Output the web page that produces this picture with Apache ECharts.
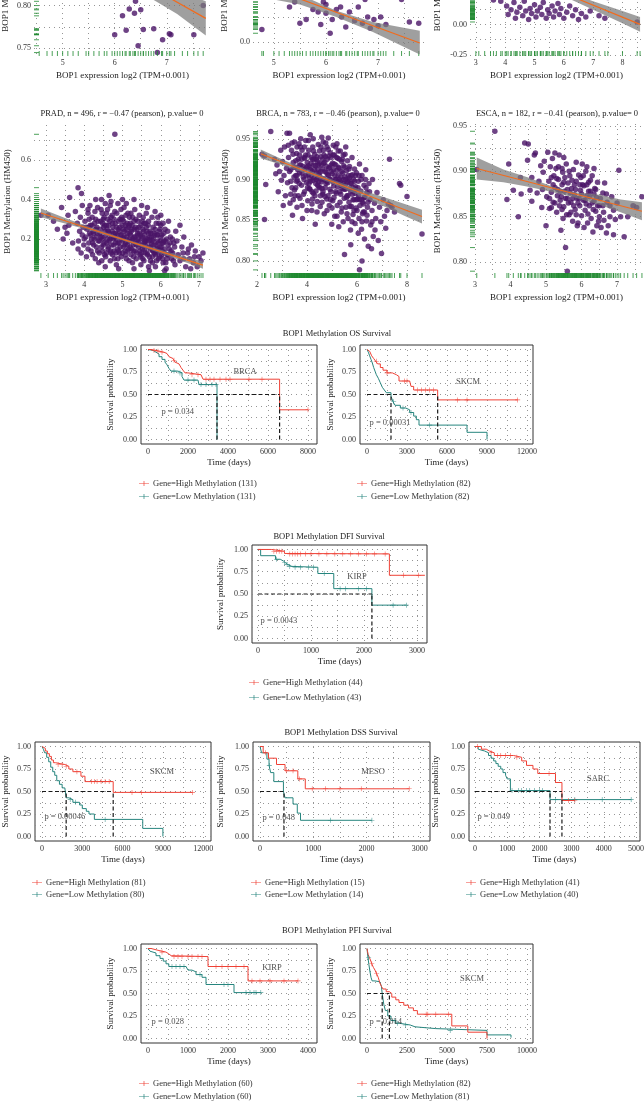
<!DOCTYPE html>
<html><head><meta charset="utf-8">
<script src="https://cdn.jsdelivr.net/npm/echarts@6/dist/echarts.min.js"></script>
<style>html,body{margin:0;padding:0;background:#fff}#c{width:644px;height:1101px}</style>
</head><body><div id="c"></div>
<script>
// ---------------- DATA: scatter panels ----------------
const A1_PTS = [[6.0,0.766],[6.15,0.788],[6.22,0.771],[6.38,0.791],[6.45,0.753],[6.55,0.772],[6.75,0.773],[6.82,0.745],[6.92,0.76],[7.05,0.767],[7.08,0.766],[7.52,0.766],[6.5,0.795],[6.28,0.796],
[4.55,0.88],[4.7,0.85],[4.9,0.89],[5.0,0.865],[5.1,0.84],[5.3,0.87],[5.45,0.9],[5.6,0.845],[5.7,0.86],[5.8,0.82],[5.85,0.88],[5.95,0.835],[6.05,0.85],[6.1,0.815],[6.2,0.86],[6.3,0.825],[6.35,0.84],[6.4,0.805],[6.6,0.83],[6.65,0.81],[6.7,0.85],[6.9,0.82],[7.0,0.835],[7.15,0.81],[7.3,0.84],[7.4,0.82],[7.6,0.815],[7.7,0.8],[5.5,0.81],[6.55,0.87],[5.2,0.905],[4.8,0.83]];
const A1_FIT = [[4.55,0.895],[7.75,0.785]];
const A1_BAND = [[4.55,0.875,0.915],[5.2,0.862,0.884],[5.9,0.84,0.856],[6.6,0.812,0.834],[7.2,0.79,0.818],[7.75,0.765,0.805]];

const A2_PTS = [[4.77,0.05],[5.3,0.14],[5.5,0.075],[5.62,0.09],[5.75,0.13],[5.85,0.12],[5.9,0.07],[6.0,0.115],[6.08,0.035],[6.12,0.09],[6.2,0.13],[6.3,0.1],[6.38,0.06],[6.45,0.12],[6.55,0.085],[6.62,0.14],[6.7,0.075],[6.8,0.1],[6.85,0.055],[6.92,0.09],[7.0,0.065],[7.05,0.1],[7.15,0.07],[7.6,0.08],[7.78,0.075],[6.0,0.15],[5.95,0.16],[5.4,0.16],[6.28,0.14],
[4.8,0.3],[5.0,0.25],[5.1,0.35],[5.2,0.22],[5.35,0.28],[5.45,0.2],[5.55,0.32],[5.7,0.24],[5.8,0.19],[6.05,0.27],[6.15,0.21],[6.25,0.18],[6.4,0.24],[6.5,0.19],[6.6,0.2],[6.75,0.17],[6.9,0.22],[7.1,0.18],[7.3,0.2],[7.45,0.17]];
const A2_FIT = [[4.75,0.23],[7.8,-0.004]];
const A2_BAND = [[4.75,0.18,0.28],[5.5,0.15,0.19],[6.2,0.1,0.125],[6.9,0.04,0.08],[7.8,-0.05,0.045]];

const A3_PTS = [[4.05,0.15],[4.1,0.08],[4.2,0.12],[4.3,0.18],[4.35,0.05],[4.4,0.1],[4.5,0.14],[4.6,0.07],[4.65,0.19],[4.7,0.11],[4.8,0.04],[4.85,0.13],[4.9,0.09],[5.0,0.16],[5.05,0.06],[5.1,0.11],[5.2,0.14],[5.25,0.08],[5.3,0.18],[5.4,0.05],[5.45,0.12],[5.5,0.09],[5.6,0.15],[5.65,0.06],[5.7,0.11],[5.8,0.17],[5.85,0.08],[5.9,0.13],[6.0,0.05],[6.1,0.1],[6.2,0.15],[6.3,0.07],[6.4,0.12],[6.5,0.04],[6.6,0.09],[6.75,0.06],[6.9,0.11],[7.2,0.07],[7.4,0.05],[8.5,0.02],[3.6,0.2],[3.85,0.19],
[3.0,0.6],[3.1,0.5],[3.3,0.45],[3.5,0.55],[3.7,0.4],[3.9,0.35],[4.0,0.5],[4.2,0.3],[4.4,0.42],[4.6,0.28],[4.8,0.38],[5.0,0.25],[5.2,0.33],[5.4,0.27],[5.6,0.3],[5.8,0.24],[6.0,0.32],[6.3,0.26],[6.6,0.23],[7.0,0.25],[7.5,0.22],[8.0,0.24],[8.6,0.3]];
const A3_FIT = [[3.0,0.55],[8.6,0.0]];
const A3_BAND = [[3.0,0.49,0.61],[4.0,0.42,0.48],[5.0,0.33,0.37],[6.0,0.23,0.27],[7.0,0.12,0.19],[8.0,0.01,0.11],[8.6,-0.06,0.06]];

const PRAD_PTS = [[2.87,0.32],[3.06,0.32],[3.41,0.36],[3.58,0.32],[3.77,0.34],[3.55,0.23],[3.45,0.20],[3.84,0.15],[3.2,0.29],[3.5,0.26],
[4.8,0.73],[3.84,0.46],[3.62,0.41],[3.93,0.43],[4.1,0.35],[4.3,0.40],[5.0,0.40],[4.65,0.42],[5.5,0.37],[5.85,0.34],[6.2,0.29],
[3.82,0.28],[3.85,0.19],[3.88,0.24],[3.9,0.31],[3.92,0.13],[3.95,0.22],[3.97,0.26],[3.99,0.17],
[4.02,0.29],[4.04,0.21],[4.06,0.11],[4.08,0.25],[4.1,0.33],[4.12,0.18],[4.14,0.23],[4.16,0.27],[4.18,0.14],[4.19,0.20],
[4.21,0.31],[4.23,0.24],[4.25,0.17],[4.27,0.28],[4.29,0.10],[4.31,0.21],[4.33,0.26],[4.35,0.36],[4.37,0.19],[4.39,0.13],[4.3,0.30],
[4.41,0.23],[4.43,0.29],[4.45,0.16],[4.47,0.33],[4.49,0.20],[4.51,0.26],[4.53,0.12],[4.55,0.38],[4.57,0.22],[4.59,0.18],[4.46,0.09],[4.52,0.31],[4.58,0.27],
[4.61,0.35],[4.63,0.24],[4.65,0.19],[4.67,0.29],[4.69,0.14],[4.71,0.21],[4.73,0.32],[4.75,0.26],[4.77,0.17],[4.79,0.10],[4.62,0.30],[4.68,0.37],[4.74,0.12],[4.78,0.23],
[4.81,0.28],[4.83,0.20],[4.85,0.33],[4.87,0.15],[4.89,0.25],[4.91,0.18],[4.93,0.30],[4.95,0.22],[4.97,0.11],[4.99,0.27],[4.84,0.07],[4.88,0.38],[4.92,0.13],[4.96,0.35],[4.82,0.23],
[5.01,0.19],[5.03,0.29],[5.05,0.24],[5.07,0.14],[5.09,0.32],[5.11,0.21],[5.13,0.17],[5.15,0.26],[5.17,0.09],[5.19,0.23],[5.04,0.36],[5.08,0.12],[5.12,0.28],[5.16,0.19],[5.18,0.31],[5.02,0.16],
[5.21,0.22],[5.23,0.15],[5.25,0.27],[5.27,0.20],[5.29,0.11],[5.31,0.25],[5.33,0.18],[5.35,0.30],[5.37,0.13],[5.39,0.23],[5.22,0.33],[5.26,0.08],[5.32,0.35],[5.36,0.17],[5.24,0.19],
[5.41,0.20],[5.43,0.26],[5.45,0.14],[5.47,0.22],[5.49,0.17],[5.51,0.29],[5.53,0.10],[5.55,0.24],[5.57,0.18],[5.59,0.13],[5.44,0.32],[5.48,0.07],[5.52,0.21],[5.56,0.28],[5.58,0.15],
[5.61,0.19],[5.63,0.24],[5.65,0.12],[5.67,0.27],[5.69,0.16],[5.71,0.21],[5.73,0.09],[5.75,0.18],[5.77,0.31],[5.79,0.14],[5.62,0.33],[5.68,0.06],[5.74,0.23],[5.78,0.11],
[5.81,0.20],[5.83,0.13],[5.85,0.25],[5.87,0.17],[5.89,0.09],[5.91,0.22],[5.93,0.15],[5.95,0.28],[5.97,0.11],[5.99,0.19],[5.86,0.06],[5.92,0.31],[5.96,0.14],
[6.01,0.16],[6.03,0.22],[6.05,0.10],[6.07,0.18],[6.09,0.13],[6.11,0.25],[6.13,0.08],[6.15,0.20],[6.17,0.12],[6.19,0.17],[6.06,0.28],[6.14,0.05],
[6.22,0.15],[6.25,0.21],[6.28,0.10],[6.31,0.13],[6.34,0.18],[6.37,0.07],[6.39,0.24],
[6.45,0.12],[6.5,0.09],[6.55,0.16],[6.6,0.21],[6.65,0.06],[6.7,0.13],[6.75,0.10],[6.8,0.17],[6.85,0.08],[6.9,0.14],[6.95,0.06],[7.05,0.09],[7.1,0.13],[6.78,0.05],[6.5,0.27],
[4.0,0.2],[4.05,0.26],[4.1,0.15],[4.13,0.3],[4.17,0.22],[4.2,0.27],[4.22,0.12],[4.26,0.2],[4.28,0.34],[4.32,0.16],[4.34,0.23],[4.36,0.29],[4.38,0.08],[4.4,0.19],[4.42,0.25],[4.44,0.35],[4.46,0.21],[4.48,0.14],[4.5,0.3],[4.52,0.18],[4.54,0.24],[4.56,0.11],[4.58,0.33],[4.6,0.2],[4.62,0.15],[4.64,0.27],[4.66,0.23],[4.68,0.09],[4.7,0.31],[4.72,0.17],[4.74,0.28],[4.76,0.2],[4.78,0.14],[4.8,0.34],[4.82,0.18],[4.84,0.26],[4.86,0.22],[4.88,0.1],[4.9,0.29],[4.92,0.24],[4.94,0.16],[4.96,0.2],[4.98,0.31],[5.0,0.13],[5.02,0.25],[5.04,0.21],[5.06,0.17],[5.08,0.27],[5.1,0.1],[5.12,0.23],[5.14,0.33],[5.16,0.15],[5.18,0.2],[5.2,0.28],[5.22,0.12],[5.24,0.25],[5.26,0.31],[5.28,0.17],[5.3,0.21],[5.32,0.14],[5.34,0.26],[5.36,0.1],[5.38,0.19],[5.4,0.29],[5.42,0.16],[5.44,0.23],[5.46,0.12],[5.48,0.27],[5.5,0.2],[5.52,0.15],[5.54,0.31],[5.56,0.09],[5.58,0.22],[5.6,0.17],[5.62,0.26],[5.64,0.13],[5.66,0.2],[5.68,0.29],[5.7,0.11],[5.72,0.24],[5.74,0.16],[5.76,0.21],[5.78,0.08],[5.8,0.26],[5.82,0.17],[5.84,0.22],[5.86,0.12],[5.88,0.28],[5.9,0.15],[5.92,0.19],[5.94,0.1],[5.96,0.24],[5.98,0.16],[6.0,0.21],[6.02,0.12],[6.04,0.18],[6.06,0.08],[6.08,0.23],[6.1,0.15],[6.12,0.19],[6.16,0.1],[6.18,0.24],[6.2,0.12],[6.24,0.18],[6.27,0.14],[6.3,0.2],[6.33,0.09],[6.36,0.16],[4.15,0.37],[4.45,0.4],[4.7,0.39],[5.1,0.38],[5.3,0.4],[5.65,0.36],[6.0,0.32],[4.55,0.06],[4.9,0.05],[5.3,0.05],[5.7,0.04],[6.1,0.04],[3.95,0.37],[3.7,0.18],[3.6,0.27],[3.3,0.25],[6.6,0.1],[6.72,0.15],[6.88,0.11],[7.0,0.11],[6.42,0.19],[6.58,0.13],
[4.43,0.21],[4.53,0.27],[4.63,0.16],[4.73,0.24],[4.83,0.13],[4.93,0.26],[5.03,0.2],[5.13,0.14],[5.23,0.24],[5.33,0.21],[5.43,0.18],[5.53,0.25],[5.63,0.2],[5.73,0.15],[5.83,0.23],[5.93,0.18],[6.03,0.14],[4.48,0.28],[4.58,0.13],[4.68,0.2],[4.78,0.3],[4.88,0.18],[4.98,0.22],[5.08,0.18],[5.18,0.27],[5.28,0.14],[5.38,0.25],[5.48,0.11],[5.58,0.19],[5.68,0.23],[5.78,0.19],[5.88,0.13],[5.98,0.25],[6.08,0.19],[4.25,0.23],[4.35,0.14],[4.12,0.26],[4.22,0.18],[4.3,0.25],[4.5,0.17],[4.6,0.25],[4.7,0.13],[4.8,0.21],[4.9,0.14],[5.0,0.3],[5.1,0.25],[5.2,0.16],[5.3,0.29],[5.4,0.22],[5.5,0.13],[5.6,0.28],[5.7,0.19],[5.8,0.14],[5.9,0.22],[6.0,0.27]];
const PRAD_FIT = [[2.87,0.332],[7.1,0.068]];
const PRAD_BAND = [[2.87,0.31,0.354],[3.5,0.279,0.307],[4.2,0.241,0.257],[5.0,0.193,0.205],[5.8,0.141,0.157],[6.5,0.093,0.117],[7.1,0.05,0.086]];

const BRCA_PTS = [[2.2,0.931],[2.3,0.929],[2.35,0.894],[2.3,0.851],[2.55,0.959],[2.7,0.925],[2.75,0.907],[2.8,0.918],[2.85,0.885],[2.9,0.91],[2.95,0.936],[2.98,0.899],
[3.02,0.922],[3.05,0.868],[3.08,0.905],[3.1,0.94],[3.14,0.88],[3.18,0.914],[3.2,0.957],[3.22,0.896],[3.26,0.927],[3.3,0.957],[3.32,0.871],[3.35,0.912],[3.38,0.936],[3.4,0.89],[3.42,0.856],[3.45,0.921],[3.48,0.903],[3.5,0.946],
[3.52,0.88],[3.55,0.915],[3.58,0.932],[3.6,0.866],[3.62,0.899],[3.65,0.925],[3.68,0.944],[3.7,0.908],[3.72,0.877],[3.75,0.918],[3.78,0.893],[3.8,0.936],[3.82,0.852],[3.85,0.903],[3.88,0.927],[3.9,0.885],[3.92,0.913],[3.95,0.948],[3.98,0.896],[3.6,0.905],[3.7,0.93],[3.85,0.916],[3.55,0.89],
[4.01,0.921],[4.03,0.874],[4.05,0.906],[4.07,0.936],[4.09,0.889],[4.11,0.915],[4.13,0.955],[4.15,0.898],[4.17,0.927],[4.19,0.862],[4.21,0.91],[4.23,0.94],[4.25,0.883],[4.27,0.918],[4.29,0.902],[4.31,0.931],[4.33,0.845],[4.35,0.895],[4.37,0.925],[4.39,0.908],[4.41,0.873],[4.43,0.913],[4.45,0.943],[4.47,0.891],[4.49,0.92],[4.04,0.93],[4.14,0.912],[4.24,0.899],[4.34,0.917],[4.44,0.902],[4.2,0.885],[4.4,0.928],
[4.51,0.904],[4.53,0.867],[4.55,0.928],[4.57,0.897],[4.59,0.952],[4.61,0.913],[4.63,0.882],[4.65,0.936],[4.67,0.901],[4.69,0.858],[4.71,0.921],[4.73,0.89],[4.75,0.945],[4.77,0.909],[4.79,0.876],[4.81,0.925],[4.83,0.896],[4.85,0.951],[4.87,0.914],[4.89,0.868],[4.91,0.9],[4.93,0.933],[4.95,0.885],[4.97,0.918],[4.99,0.845],[4.56,0.91],[4.66,0.92],[4.76,0.895],[4.86,0.905],[4.96,0.927],[4.6,0.889],[4.8,0.94],
[5.01,0.907],[5.03,0.874],[5.05,0.93],[5.07,0.892],[5.09,0.919],[5.11,0.855],[5.13,0.9],[5.15,0.94],[5.17,0.883],[5.19,0.911],[5.21,0.868],[5.23,0.926],[5.25,0.897],[5.27,0.842],[5.29,0.914],[5.31,0.885],[5.33,0.935],[5.35,0.903],[5.37,0.86],[5.39,0.922],[5.41,0.889],[5.43,0.908],[5.45,0.848],[5.47,0.917],[5.49,0.877],[5.06,0.912],[5.16,0.9],[5.26,0.915],[5.36,0.893],[5.46,0.9],[5.5,0.808],[5.2,0.944],
[5.52,0.931],[5.54,0.894],[5.56,0.866],[5.58,0.911],[5.6,0.88],[5.62,0.923],[5.64,0.852],[5.66,0.899],[5.68,0.872],[5.7,0.916],[5.72,0.889],[5.74,0.838],[5.76,0.905],[5.78,0.867],[5.8,0.927],[5.82,0.882],[5.84,0.857],[5.86,0.9],[5.88,0.875],[5.9,0.913],[5.92,0.846],[5.94,0.891],[5.96,0.865],[5.98,0.908],[5.65,0.905],[5.85,0.89],[5.55,0.94],[5.75,0.82],
[6.02,0.876],[6.05,0.898],[6.08,0.852],[6.1,0.919],[6.12,0.868],[6.15,0.886],[6.18,0.839],[6.2,0.905],[6.22,0.872],[6.25,0.86],[6.28,0.893],[6.3,0.827],[6.32,0.878],[6.35,0.912],[6.38,0.849],[6.4,0.884],[6.42,0.866],[6.45,0.818],[6.48,0.895],[6.1,0.789],[6.2,0.80],[6.05,0.834],[6.3,0.86],
[6.52,0.875],[6.55,0.844],[6.6,0.862],[6.62,0.9],[6.65,0.83],[6.7,0.871],[6.75,0.852],[6.8,0.884],[6.85,0.825],[6.9,0.866],[6.95,0.848],[6.98,0.809],[6.58,0.815],[6.72,0.838],
[7.05,0.875],[7.1,0.855],[7.2,0.862],[7.3,0.925],[7.35,0.868],[7.4,0.866],[7.5,0.86],[7.7,0.895],[7.75,0.893],[8.0,0.879],[8.6,0.833],[7.15,0.84],[7.25,0.87],
[3.3,0.91],[3.36,0.898],[3.44,0.931],[3.5,0.887],[3.56,0.923],[3.63,0.912],[3.69,0.895],[3.74,0.94],[3.8,0.908],[3.86,0.882],[3.91,0.926],[3.96,0.905],[4.02,0.89],[4.06,0.948],[4.1,0.901],[4.16,0.92],[4.22,0.876],[4.26,0.935],[4.3,0.912],[4.36,0.886],[4.42,0.922],[4.46,0.897],[4.5,0.935],[4.54,0.88],[4.58,0.918],[4.62,0.9],[4.68,0.93],[4.72,0.879],[4.78,0.916],[4.82,0.906],[4.88,0.929],[4.92,0.888],[4.98,0.91],[5.02,0.92],[5.08,0.878],[5.12,0.905],[5.18,0.927],[5.22,0.891],[5.28,0.9],[5.32,0.872],[5.38,0.91],[5.42,0.925],[5.48,0.888],[5.52,0.903],[5.58,0.878],[5.62,0.897],[5.68,0.913],[5.72,0.867],[5.78,0.895],[5.82,0.906],[5.88,0.862],[5.92,0.883],[5.98,0.875],[6.04,0.89],[6.1,0.875],[6.16,0.9],[6.22,0.858],[6.28,0.878],[6.36,0.89],[6.44,0.872],
[3.4,0.945],[3.6,0.94],[3.75,0.95],[3.9,0.94],[4.05,0.917],[4.25,0.95],[4.45,0.918],[4.65,0.946],[4.85,0.937],[5.05,0.942],[5.25,0.935],[5.45,0.93],[3.45,0.875],[3.65,0.88],[3.8,0.868],[4.0,0.862],[4.2,0.87],[4.4,0.86],[4.6,0.872],[4.8,0.862],[5.0,0.865],[5.2,0.855],[5.4,0.865],[5.6,0.858],[5.8,0.848],[6.0,0.862],[6.2,0.848],[6.4,0.856],[6.6,0.848],
[3.25,0.942],[3.35,0.882],[3.55,0.905],[3.7,0.918],[3.95,0.93],[4.08,0.895],[4.18,0.905],[4.28,0.925],[4.38,0.9],[4.48,0.908],[4.52,0.89],[4.62,0.925],[4.72,0.91],[4.78,0.898],[4.9,0.915],[4.95,0.9],[5.1,0.93],[5.15,0.918],[5.3,0.925],[5.35,0.882],[5.5,0.915],[5.55,0.9],[5.7,0.902],[5.75,0.885],[5.9,0.898],[5.95,0.888],[6.08,0.905],[6.18,0.875],[6.34,0.9],[6.5,0.885],
[4.12,0.888],[4.32,0.88],[4.56,0.94],[4.74,0.928],[4.94,0.875],[5.04,0.897],[5.24,0.905],[5.44,0.895],[5.64,0.88],[5.84,0.875],[6.06,0.88],[6.26,0.87],[3.48,0.915],[3.58,0.898],[3.78,0.925],[3.88,0.9],[3.98,0.915],[4.22,0.925],[4.42,0.893],[4.64,0.885],[4.84,0.88],[5.14,0.885],[5.34,0.898],[5.54,0.888],[5.74,0.895],[5.94,0.905]];
const BRCA_FIT = [[2.15,0.9316],[8.6,0.8545]];
const BRCA_BAND = [[2.15,0.926,0.937],[3,0.918,0.925],[4,0.907,0.912],[5,0.895,0.9],[6,0.882,0.889],[7,0.868,0.879],[8,0.854,0.869],[8.6,0.846,0.863]];

const ESCA_PTS = [[3.05,0.902],[3.56,0.944],[3.95,0.908],[3.9,0.869],[4.08,0.879],[4.22,0.85],[4.28,0.893],[4.4,0.931],[4.48,0.912],[4.55,0.879],[4.6,0.893],[4.67,0.918],[4.75,0.876],[4.8,0.889],[4.88,0.86],[4.92,0.899],[4.95,0.911],[5.0,0.84],[5.02,0.872],[5.05,0.921],[5.08,0.889],[5.1,0.859],[5.12,0.905],[5.15,0.877],[5.18,0.914],[5.2,0.866],[5.22,0.895],[5.25,0.882],[5.28,0.903],[5.3,0.855],[5.32,0.873],[5.35,0.891],[5.37,0.918],[5.4,0.868],[5.42,0.835],[5.45,0.885],[5.47,0.899],[5.5,0.861],[5.52,0.878],[5.55,0.816],[5.57,0.908],[5.6,0.87],[5.62,0.887],[5.65,0.852],[5.67,0.895],[5.7,0.866],[5.72,0.881],[5.75,0.845],[5.77,0.902],[5.8,0.874],[5.82,0.858],[5.85,0.889],[5.87,0.87],[5.9,0.843],[5.92,0.896],[5.95,0.862],[5.97,0.879],[6.0,0.851],[6.02,0.908],[6.05,0.868],[6.07,0.884],[6.1,0.857],[6.12,0.9],[6.15,0.873],[6.17,0.843],[6.2,0.888],[6.22,0.862],[6.25,0.878],[6.27,0.848],[6.3,0.895],[6.32,0.833],[6.35,0.867],[6.37,0.881],[6.4,0.856],[6.42,0.871],[6.45,0.888],[6.48,0.845],[6.5,0.862],[6.55,0.838],[6.6,0.876],[6.62,0.855],[6.65,0.887],[6.7,0.832],[6.72,0.866],[6.8,0.85],[6.85,0.872],[6.9,0.857],[6.95,0.847],[7.0,0.865],[7.05,0.901],[7.1,0.85],[7.2,0.828],[7.45,0.862],[7.7,0.872],[5.6,0.79],
[4.5,0.93],[4.85,0.906],[5.25,0.92],[5.5,0.915],[5.85,0.91],[6.15,0.905],[6.35,0.903],[4.7,0.92],[5.15,0.893],[5.45,0.903],
[5.33,0.88],[5.43,0.872],[5.53,0.893],[5.63,0.865],[5.73,0.89],[5.83,0.88],[5.93,0.87],[6.03,0.885],[6.13,0.864],[6.23,0.872],[5.38,0.862],[5.58,0.852],[5.78,0.862],[5.98,0.893],[6.18,0.853],[6.33,0.858],[6.53,0.87],[6.43,0.84],[6.63,0.846],[6.75,0.84],[6.07,0.838],[5.88,0.84],[5.68,0.876],[5.48,0.848],
[5.1,0.87],[5.2,0.885],[5.3,0.892],[5.4,0.878],[5.5,0.888],[5.6,0.88],[5.7,0.855],[5.8,0.885],[5.9,0.865],[6.0,0.875],[6.1,0.868],[6.2,0.878],[6.3,0.865],[6.4,0.88],[6.5,0.85],[6.6,0.862],[6.7,0.875],[6.8,0.862],[5.25,0.865],[5.45,0.858],[5.65,0.9],[5.85,0.852],[6.05,0.895],[6.25,0.89],[6.45,0.862],[5.15,0.86],[5.35,0.905],[5.55,0.87],[5.75,0.87],[5.95,0.885],[6.15,0.885],[6.35,0.875],[4.3,0.875],[4.6,0.867],[4.9,0.88],[6.9,0.83],[7.3,0.85],[7.55,0.86]];
const ESCA_FIT = [[3.05,0.903],[7.7,0.856]];
const ESCA_BAND = [[3.05,0.891,0.915],[3.8,0.888,0.902],[4.5,0.883,0.893],[5.2,0.877,0.883],[5.8,0.871,0.877],[6.5,0.863,0.874],[7.1,0.855,0.869],[7.7,0.846,0.866]];

// tick label / grid values
const A1_XL=[5,6,7], A1_XG=[4.5,5,5.5,6,6.5,7,7.5], A1_YL=[0.75,0.8,0.85,0.9], A1_YG=[0.75,0.775,0.8,0.825,0.85,0.875,0.9];
const A2_XL=[5,6,7], A2_XG=[5,5.5,6,6.5,7,7.5], A2_YL=[0,0.2,0.4], A2_YG=[0,0.1,0.2,0.3,0.4,0.5];
const A3_XL=[3,4,5,6,7,8], A3_XG=[3,3.5,4,4.5,5,5.5,6,6.5,7,7.5,8,8.5], A3_YL=[-0.25,0,0.25,0.5,0.75], A3_YG=[-0.25,-0.125,0,0.125,0.25,0.375,0.5,0.625,0.75,0.875];
const PRAD_XL=[3,4,5,6,7], PRAD_XG=[3,3.5,4,4.5,5,5.5,6,6.5,7], PRAD_YL=[0.2,0.4,0.6], PRAD_YG=[0.1,0.2,0.3,0.4,0.5,0.6,0.7];
const BRCA_XL=[2,4,6,8], BRCA_XG=[2,3,4,5,6,7,8], BRCA_YL=[0.8,0.85,0.9,0.95], BRCA_YG=[0.8,0.825,0.85,0.875,0.9,0.925,0.95];
const ESCA_XL=[3,4,5,6,7], ESCA_XG=[3,3.5,4,4.5,5,5.5,6,6.5,7,7.5], ESCA_YL=[0.8,0.85,0.9,0.95], ESCA_YG=[0.8,0.825,0.85,0.875,0.9,0.925,0.95];

// ---------------- DATA: survival panels ----------------
const KM_YL = [0,0.25,0.5,0.75,1];
const KM_YG = [0,0.125,0.25,0.375,0.5,0.625,0.75,0.875,1];

const OS_BRCA_XL=[0,2000,4000,6000,8000], OS_BRCA_XG=[0,1000,2000,3000,4000,5000,6000,7000,8000];
const OS_BRCA_HI=[[0,1],[150,0.99],[400,0.98],[600,0.97],[800,0.955],[950,0.94],[1050,0.92],[1150,0.9],[1250,0.88],[1350,0.86],[1450,0.84],[1550,0.82],[1650,0.8],[1750,0.77],[1850,0.74],[2000,0.72],[2650,0.7],[2750,0.67],[6580,0.33],[8000,0.33]];
const OS_BRCA_HI_C=[300,500,700,1300,2200,2500,2900,3100,3300,3600,3900,4100,5050,5700,8000];
const OS_BRCA_LO=[[0,1],[100,0.99],[250,0.97],[400,0.95],[550,0.92],[700,0.89],[850,0.86],[950,0.83],[1050,0.79],[1150,0.76],[1500,0.74],[1700,0.7],[1800,0.66],[2500,0.64],[2550,0.61],[3450,0]];
const OS_BRCA_LO_C=[1300,1600,2000,2300,2650,2900,3200,3400];
const OS_BRCA_MED=[3450,6580];

const SK12_XL=[0,3000,6000,9000,12000], SK12_XG=[0,1500,3000,4500,6000,7500,9000,10500,12000];
const OS_SKCM_HI=[[0,1],[100,0.98],[200,0.96],[350,0.93],[500,0.9],[650,0.87],[800,0.84],[1000,0.8],[1200,0.77],[1500,0.74],[1900,0.72],[2200,0.7],[2400,0.65],[3200,0.63],[3300,0.59],[3500,0.55],[5300,0.44],[11300,0.44]];
const OS_SKCM_HI_C=[700,1500,2800,3000,3800,4100,4400,4700,5000,6800,7500,11300];
const OS_SKCM_LO=[[0,1],[100,0.97],[200,0.93],[300,0.89],[400,0.85],[500,0.8],[600,0.76],[700,0.72],[850,0.68],[1000,0.63],[1150,0.58],[1300,0.55],[1450,0.52],[1800,0.48],[1950,0.42],[2100,0.38],[2500,0.35],[2900,0.33],[3200,0.3],[3500,0.26],[3700,0.22],[3900,0.16],[7500,0.08],[9000,0]];
const OS_SKCM_LO_C=[2000,2700,3300,4700];
const OS_SKCM_MED=[1800,5300];

const DFI_XL=[0,1000,2000,3000], DFI_XG=[0,500,1000,1500,2000,2500,3000];
const DFI_KIRP_HI=[[0,1],[250,0.98],[500,0.955],[520,0.95],[2480,0.71],[3150,0.71]];
const DFI_KIRP_HI_C=[300,350,400,450,600,650,700,750,800,900,1000,1150,1300,1450,1600,1750,1900,2050,2200,2400,2750,3030];
const DFI_KIRP_LO=[[0,1],[50,0.93],[330,0.89],[420,0.87],[480,0.85],[520,0.83],[560,0.81],[640,0.8],[1130,0.73],[1430,0.56],[2150,0.375],[2800,0.375]];
const DFI_KIRP_LO_C=[350,500,550,600,700,800,950,1050,1250,1550,1650,1900,2050,2550,2800];
const DFI_KIRP_MED=[2150];

const DSS_SKCM_HI=[[0,1],[100,0.98],[250,0.95],[400,0.92],[550,0.89],[700,0.85],[850,0.82],[1000,0.8],[1700,0.78],[2000,0.75],[2300,0.72],[2900,0.67],[3200,0.61],[5300,0.49],[11200,0.49]];
const DSS_SKCM_HI_C=[1200,1500,1800,2600,3700,3900,4100,4400,4700,5000,6700,7400,11200];
const DSS_SKCM_LO=[[0,1],[100,0.97],[200,0.93],[350,0.88],[500,0.83],[650,0.77],[800,0.72],[950,0.68],[1100,0.62],[1300,0.58],[1500,0.54],[1700,0.52],[1800,0.43],[2000,0.41],[2300,0.38],[2800,0.35],[3000,0.31],[3300,0.28],[3500,0.25],[3900,0.19],[7500,0.09],[9000,0]];
const DSS_SKCM_LO_C=[2100,2500,4700];
const DSS_SKCM_MED=[1800,5300];

const MESO_XL=[0,1000,2000,3000], MESO_XG=[0,500,1000,1500,2000,2500,3000];
const DSS_MESO_HI=[[0,1],[60,0.93],[160,0.87],[310,0.8],[470,0.73],[710,0.64],[850,0.53],[2800,0.53]];
const DSS_MESO_HI_C=[100,500,620,740,980,1230,1500,1900,2800];
const DSS_MESO_LO=[[0,1],[30,0.93],[130,0.86],[170,0.79],[200,0.71],[260,0.61],[440,0.5],[470,0.43],[620,0.36],[700,0.26],[760,0.18],[2100,0.18]];
const DSS_MESO_LO_C=[175,1320,2100];
const DSS_MESO_MED=[450];

const SARC_XL=[0,1000,2000,3000,4000,5000], SARC_XG=[0,500,1000,1500,2000,2500,3000,3500,4000,4500,5000];
const DSS_SARC_HI=[[0,1],[200,0.97],[350,0.95],[450,0.93],[600,0.9],[1200,0.88],[1450,0.84],[1600,0.79],[1800,0.75],[1950,0.7],[2500,0.6],[2700,0.4],[3100,0.4]];
const DSS_SARC_HI_C=[80,500,700,800,950,1100,1300,2300,2900,3100];
const DSS_SARC_LO=[[0,1],[100,0.97],[150,0.95],[300,0.93],[420,0.9],[500,0.87],[580,0.84],[650,0.81],[720,0.78],[800,0.75],[870,0.71],[950,0.68],[1000,0.64],[1100,0.51],[2330,0.41],[4850,0.41]];
const DSS_SARC_LO_C=[1150,1350,1450,1600,1700,1850,2000,2100,2500,3100,3950,4850];
const DSS_SARC_MED=[2330,2700];

const PFI_KIRP_XL=[0,1000,2000,3000,4000], PFI_KIRP_XG=[0,500,1000,1500,2000,2500,3000,3500,4000];
const PFI_KIRP_HI=[[0,1],[80,0.98],[250,0.96],[450,0.94],[520,0.92],[580,0.91],[1500,0.8],[2500,0.64],[3750,0.64]];
const PFI_KIRP_HI_C=[350,650,750,850,1000,1100,1250,1350,1700,1850,2000,2200,2400,2600,2800,3050,3400,3750];
const PFI_KIRP_LO=[[0,1],[50,0.97],[100,0.95],[200,0.92],[300,0.89],[380,0.86],[450,0.83],[520,0.8],[950,0.78],[1000,0.76],[1100,0.74],[1200,0.71],[1350,0.68],[1450,0.6],[2150,0.51],[2820,0.51]];
const PFI_KIRP_LO_C=[600,700,800,900,1300,1900,2000,2450,2550,2650,2700,2820];
const PFI_KIRP_MED=[];

const PFI_SKCM_XL=[0,2500,5000,7500,10000], PFI_SKCM_XG=[0,1250,2500,3750,5000,6250,7500,8750,10000];
const PFI_SKCM_HI=[[0,1],[30,0.97],[80,0.93],[150,0.9],[220,0.87],[300,0.83],[400,0.79],[500,0.76],[600,0.72],[700,0.68],[800,0.62],[900,0.58],[1000,0.55],[1200,0.52],[1400,0.5],[1550,0.46],[1800,0.43],[2000,0.4],[2300,0.37],[2600,0.34],[2900,0.31],[3150,0.27],[5300,0.14],[6300,0.07],[7500,0]];
const PFI_SKCM_HI_C=[300,600,3700,3800,4300,5100];
const PFI_SKCM_LO=[[0,1],[60,0.9],[120,0.82],[180,0.75],[250,0.68],[320,0.64],[500,0.63],[800,0.61],[900,0.58],[950,0.5],[1000,0.44],[1050,0.38],[1150,0.31],[1300,0.25],[1500,0.2],[1800,0.17],[2000,0.15],[2700,0.13],[3000,0.11],[4300,0.09],[7500,0.04],[9000,0.01]];
const PFI_SKCM_LO_C=[100,1700,1900,2400,5200];
const PFI_SKCM_MED=[950,1400];

// ---------------- building ----------------
const FONT='"Liberation Serif","Times New Roman",serif';
const INK='#222', TICK='#333', GRIDC='#8a8a8a';
const PURPLE='#4a1466', GREEN='#1f8a30', ORANGE='#f26b1d', BAND='#7a7a7a';
const RED='#ef4136', TEAL='#26857e';
const PLUS='path://M0,4.4h10v1.2h-10z M4.4,0h1.2v10h-1.2z';
const PLUS_LEG='path://M0,4.3h20v1.4h-20z M9.3,0h1.4v10h-1.4z';

const grid=[], xAxis=[], yAxis=[], series=[], legend=[], graphic=[];

function dotted(){ return {show:true, lineStyle:{color:GRIDC, type:[1,4], width:0.9}}; }
function axis(gi,o){
  return {type:'value', gridIndex:gi, min:o.min, max:o.max,
    axisLine:{show:false}, axisTick:{show:false, customValues:o.grid},
    axisLabel:{customValues:o.labels, fontFamily:FONT, fontSize:8, color:TICK, margin:o.margin==null?3:o.margin,
      formatter:v=>o.dec==null?String(v):Number(v).toFixed(o.dec)},
    splitLine:dotted(), minorSplitLine:{show:false},
    name:o.name, nameLocation:'middle', nameGap:o.gap,
    nameTextStyle:{fontFamily:FONT, fontSize:9, color:INK}};
}
function text(t,x,y,size,align){
  graphic.push({type:'text', x:x, y:y, silent:true,
    style:{text:t, fill:INK, font:size+'px '+FONT, align:align||'center', verticalAlign:'middle', textAlign:align||'center', textVerticalAlign:'middle'}});
}
function mkGrid(b,extra){
  return Object.assign({left:b[0], top:b[1], width:b[2], height:b[3], containLabel:false, outerBoundsMode:'none'}, extra||{});
}
function legendItem(name,left,top){
  legend.push({data:[name], left:left, top:top, orient:'horizontal', itemWidth:10, itemHeight:6,
    icon:PLUS_LEG, selectedMode:false, padding:0, textStyle:{fontFamily:FONT, fontSize:8.5, color:'#333', padding:[0,0,0,-1]}});
}

function scatterPanel(p){
  const gi=grid.length;
  grid.push(mkGrid(p.box));
  xAxis.push(axis(gi,{min:p.x[0], max:p.x[1], labels:p.xl, grid:p.xg, dec:p.xdec, name:'BOP1 expression log2 (TPM+0.001)', gap:15}));
  yAxis.push(axis(gi,{min:p.y[0], max:p.y[1], labels:p.yl, grid:p.yg, dec:p.ydec, name:'BOP1 Methylation (HM450)', gap:p.ygap}));
  const ax={xAxisIndex:gi, yAxisIndex:gi, silent:true};
  series.push(Object.assign({type:'scatter', data:p.pts, symbolSize:5.5, itemStyle:{color:PURPLE}, z:2},ax));
  series.push(Object.assign({type:'scatter', data:p.pts.map(d=>[d[0],p.y[0]]), symbol:'rect', symbolSize:[1,5], symbolOffset:[0,-2.5], itemStyle:{color:GREEN}, clip:false, z:3},ax));
  series.push(Object.assign({type:'scatter', data:p.pts.filter(d=>d[1]<=p.y[1]).map(d=>[p.x[0],d[1]]), symbol:'rect', symbolSize:[5,1], symbolOffset:[2.5,0], itemStyle:{color:GREEN}, clip:false, z:3},ax));
  const band=p.band;
  series.push(Object.assign({type:'custom', data:[[p.x[0],p.y[0]]], clip:true, z:4,
    renderItem:(params,api)=>{
      const up=band.map(b=>api.coord([b[0],b[2]]));
      const lo=band.slice().reverse().map(b=>api.coord([b[0],b[1]]));
      return {type:'polygon', shape:{points:up.concat(lo)}, style:{fill:BAND, opacity:0.72}};
    }},ax));
  series.push(Object.assign({type:'line', data:p.fit, symbol:'none', lineStyle:{color:ORANGE, width:1.2}, clip:true, z:5},ax));
  if(p.title) text(p.title, p.tpos[0], p.tpos[1], 8.5);
}

function survAt(curve,t){ let s=curve[0][1]; for(const c of curve){ if(c[0]<=t) s=c[1]; else break; } return s; }

function kmPanel(k){
  const gi=grid.length;
  grid.push(mkGrid(k.box,{show:true, borderColor:'#333', borderWidth:1, backgroundColor:'transparent'}));
  xAxis.push(axis(gi,{min:k.x[0], max:k.x[1], labels:k.xl, grid:k.xg, name:'Time (days)', gap:14, margin:4}));
  yAxis.push(axis(gi,{min:-0.05, max:1.05, labels:KM_YL, grid:KM_YG, dec:2, name:'Survival probability', gap:k.ygap, margin:4}));
  const ax={xAxisIndex:gi, yAxisIndex:gi, silent:true};
  for(const g of [k.lo,k.hi]){
    series.push(Object.assign({type:'line', name:g.name, data:g.curve, step:'end', symbol:'none', lineStyle:{color:g.color, width:1}, itemStyle:{color:g.color}, z:3},ax));
    series.push(Object.assign({type:'scatter', name:g.name, data:g.cens.map(t=>[t,survAt(g.curve,t)]), symbol:PLUS, symbolSize:5, itemStyle:{color:g.color}, z:4},ax));
  }
  if(k.med.length){
    const dash={color:'#1a1a1a', width:1.2, type:[4,2.5]};
    series.push(Object.assign({type:'line', data:[[0,0.5],[Math.max(...k.med),0.5]], symbol:'none', lineStyle:dash, z:5},ax));
    for(const v of k.med) series.push(Object.assign({type:'line', data:[[v,0],[v,0.5]], symbol:'none', lineStyle:dash, z:5},ax));
  }
  const lab={fontFamily:FONT, fontSize:8.5, color:INK};
  series.push(Object.assign({type:'scatter', symbolSize:1, itemStyle:{color:'rgba(0,0,0,0)'}, z:6,
    data:[{value:k.labAt, label:Object.assign({show:true, formatter:k.lab, position:'inside', align:'center', verticalAlign:'middle'},lab)},
          {value:k.pAt, label:Object.assign({show:true, formatter:k.p, position:[0,0], align:'left', verticalAlign:'middle'},lab)}]},ax));
  legendItem(k.hi.name, k.leg[0], k.leg[1]);
  legendItem(k.lo.name, k.leg[0], k.leg[2]);
}

// ---- scatter panels ----
scatterPanel({box:[34,-97,177,153], x:[4.45,7.85], y:[0.741,0.92], xl:A1_XL, xg:A1_XG, yl:A1_YL, yg:A1_YG, ydec:2, ygap:24, pts:A1_PTS, fit:A1_FIT, band:A1_BAND});
scatterPanel({box:[253,-97,172,153], x:[4.6,7.9], y:[-0.056,0.556], xl:A2_XL, xg:A2_XG, yl:A2_YL, yg:A2_YG, ydec:1, ygap:24, pts:A2_PTS, fit:A2_FIT, band:A2_BAND});
scatterPanel({box:[470,-98,173,154], x:[2.8,8.7], y:[-0.258,1.0], xl:A3_XL, xg:A3_XG, yl:A3_YL, yg:A3_YG, ydec:2, ygap:28, pts:A3_PTS, fit:A3_FIT, band:A3_BAND});
scatterPanel({box:[34,125,177,153], x:[2.69,7.31], y:[0.003,0.777], xl:PRAD_XL, xg:PRAD_XG, yl:PRAD_YL, yg:PRAD_YG, ydec:1, ygap:22, pts:PRAD_PTS, fit:PRAD_FIT, band:PRAD_BAND,
  title:'PRAD, n = 496, r = \u22120.47 (pearson), p.value= 0', tpos:[122,114]});
scatterPanel({box:[253,125,172,153], x:[1.84,8.72], y:[0.779,0.967], xl:BRCA_XL, xg:BRCA_XG, yl:BRCA_YL, yg:BRCA_YG, ydec:2, ygap:23, pts:BRCA_PTS, fit:BRCA_FIT, band:BRCA_BAND,
  title:'BRCA, n = 783, r = \u22120.46 (pearson), p.value= 0', tpos:[338,114]});
scatterPanel({box:[470,124,173,154], x:[2.86,7.73], y:[0.7825,0.952], xl:ESCA_XL, xg:ESCA_XG, yl:ESCA_YL, yg:ESCA_YG, ydec:2, ygap:28, pts:ESCA_PTS, fit:ESCA_FIT, band:ESCA_BAND,
  title:'ESCA, n = 182, r = \u22120.41 (pearson), p.value= 0', tpos:[557,114]});

// ---- survival panels ----
text('BOP1 Methylation OS Survival',337,334,8.5);
kmPanel({box:[141,345,176,99], x:[-350,8450], xl:OS_BRCA_XL, xg:OS_BRCA_XG, ygap:26,
  hi:{name:'Gene=High Methylation (131)', curve:OS_BRCA_HI, cens:OS_BRCA_HI_C, color:RED},
  lo:{name:'Gene=Low Methylation (131)', curve:OS_BRCA_LO, cens:OS_BRCA_LO_C, color:TEAL},
  med:OS_BRCA_MED, lab:'BRCA', labAt:[4850,0.755], p:'p = 0.034', pAt:[700,0.3], leg:[139,479,492]});
kmPanel({box:[360,345,173,99], x:[-525,12450], xl:SK12_XL, xg:SK12_XG, ygap:25,
  hi:{name:'Gene=High Methylation (82)', curve:OS_SKCM_HI, cens:OS_SKCM_HI_C, color:RED},
  lo:{name:'Gene=Low Methylation (82)', curve:OS_SKCM_LO, cens:OS_SKCM_LO_C, color:TEAL},
  med:OS_SKCM_MED, lab:'SKCM', labAt:[7575,0.644], p:'p = 0.00031', pAt:[225,0.178], leg:[357,479,492]});

text('BOP1 Methylation DFI Survival',329,537,8.5);
kmPanel({box:[252,545,175,98], x:[-113,3190], xl:DFI_XL, xg:DFI_XG, ygap:27,
  hi:{name:'Gene=High Methylation (44)', curve:DFI_KIRP_HI, cens:DFI_KIRP_HI_C, color:RED},
  lo:{name:'Gene=Low Methylation (43)', curve:DFI_KIRP_LO, cens:DFI_KIRP_LO_C, color:TEAL},
  med:DFI_KIRP_MED, lab:'KIRP', labAt:[1868,0.689], p:'p = 0.0043', pAt:[57,0.19], leg:[249,678,693]});

text('BOP1 Methylation DSS Survival',341,733,8.5);
kmPanel({box:[35,742,176,99], x:[-520,12580], xl:SK12_XL, xg:SK12_XG, ygap:25,
  hi:{name:'Gene=High Methylation (81)', curve:DSS_SKCM_HI, cens:DSS_SKCM_HI_C, color:RED},
  lo:{name:'Gene=Low Methylation (80)', curve:DSS_SKCM_LO, cens:DSS_SKCM_LO_C, color:TEAL},
  med:DSS_SKCM_MED, lab:'SKCM', labAt:[8935,0.72], p:'p = 0.00046', pAt:[220,0.21], leg:[32,878,890]});
kmPanel({box:[253,742,177,99], x:[-131,3190], xl:MESO_XL, xg:MESO_XG, ygap:28,
  hi:{name:'Gene=High Methylation (15)', curve:DSS_MESO_HI, cens:DSS_MESO_HI_C, color:RED},
  lo:{name:'Gene=Low Methylation (14)', curve:DSS_MESO_LO, cens:DSS_MESO_LO_C, color:TEAL},
  med:DSS_MESO_MED, lab:'MESO', labAt:[2120,0.72], p:'p = 0.048', pAt:[56,0.2], leg:[251,878,890]});
kmPanel({box:[469,742,171,99], x:[-186,5124], xl:SARC_XL, xg:SARC_XG, ygap:29,
  hi:{name:'Gene=High Methylation (41)', curve:DSS_SARC_HI, cens:DSS_SARC_HI_C, color:RED},
  lo:{name:'Gene=Low Methylation (40)', curve:DSS_SARC_LO, cens:DSS_SARC_LO_C, color:TEAL},
  med:DSS_SARC_MED, lab:'SARC', labAt:[3820,0.644], p:'p = 0.049', pAt:[93,0.21], leg:[466,878,890]});

text('BOP1 Methylation PFI Survival',337,931,8.5);
kmPanel({box:[141,944,176,99], x:[-175,4225], xl:PFI_KIRP_XL, xg:PFI_KIRP_XG, ygap:26,
  hi:{name:'Gene=High Methylation (60)', curve:PFI_KIRP_HI, cens:PFI_KIRP_HI_C, color:RED},
  lo:{name:'Gene=Low Methylation (60)', curve:PFI_KIRP_LO, cens:PFI_KIRP_LO_C, color:TEAL},
  med:PFI_KIRP_MED, lab:'KIRP', labAt:[3100,0.79], p:'p = 0.028', pAt:[100,0.178], leg:[139,1079,1092]});
kmPanel({box:[360,944,173,99], x:[-437,10375], xl:PFI_SKCM_XL, xg:PFI_SKCM_XG, ygap:25,
  hi:{name:'Gene=High Methylation (82)', curve:PFI_SKCM_HI, cens:PFI_SKCM_HI_C, color:RED},
  lo:{name:'Gene=Low Methylation (81)', curve:PFI_SKCM_LO, cens:PFI_SKCM_LO_C, color:TEAL},
  med:PFI_SKCM_MED, lab:'SKCM', labAt:[6560,0.667], p:'p = 0.014', pAt:[190,0.178], leg:[357,1079,1092]});

const chart=echarts.init(document.getElementById('c'),null,{renderer:'canvas'});
chart.setOption({animation:false, backgroundColor:'#fff', grid, xAxis, yAxis, series, legend, graphic});
</script></body></html>
